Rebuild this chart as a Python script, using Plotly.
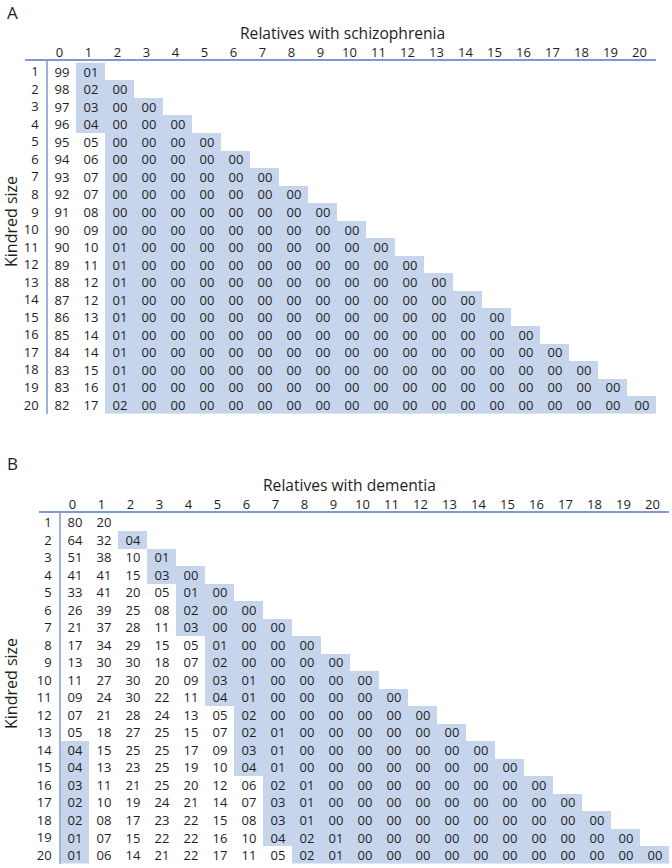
import plotly.graph_objects as go

kindred_size = list(range(1, 21))
relatives = list(range(0, 21))
tick_labels_x = [str(v) for v in relatives]
tick_labels_y = [str(v) for v in kindred_size]

# Panel A: % of kindreds by number of relatives with schizophrenia
schizophrenia = [
    [99, 1],
    [98, 2, 0],
    [97, 3, 0, 0],
    [96, 4, 0, 0, 0],
    [95, 5, 0, 0, 0, 0],
    [94, 6, 0, 0, 0, 0, 0],
    [93, 7, 0, 0, 0, 0, 0, 0],
    [92, 7, 0, 0, 0, 0, 0, 0, 0],
    [91, 8, 0, 0, 0, 0, 0, 0, 0, 0],
    [90, 9, 0, 0, 0, 0, 0, 0, 0, 0, 0],
    [90, 10, 1, 0, 0, 0, 0, 0, 0, 0, 0, 0],
    [89, 11, 1, 0, 0, 0, 0, 0, 0, 0, 0, 0, 0],
    [88, 12, 1, 0, 0, 0, 0, 0, 0, 0, 0, 0, 0, 0],
    [87, 12, 1, 0, 0, 0, 0, 0, 0, 0, 0, 0, 0, 0, 0],
    [86, 13, 1, 0, 0, 0, 0, 0, 0, 0, 0, 0, 0, 0, 0, 0],
    [85, 14, 1, 0, 0, 0, 0, 0, 0, 0, 0, 0, 0, 0, 0, 0, 0],
    [84, 14, 1, 0, 0, 0, 0, 0, 0, 0, 0, 0, 0, 0, 0, 0, 0, 0],
    [83, 15, 1, 0, 0, 0, 0, 0, 0, 0, 0, 0, 0, 0, 0, 0, 0, 0, 0],
    [83, 16, 1, 0, 0, 0, 0, 0, 0, 0, 0, 0, 0, 0, 0, 0, 0, 0, 0, 0],
    [82, 17, 2, 0, 0, 0, 0, 0, 0, 0, 0, 0, 0, 0, 0, 0, 0, 0, 0, 0, 0],
]

# Panel B: % of kindreds by number of relatives with dementia
dementia = [
    [80, 20],
    [64, 32, 4],
    [51, 38, 10, 1],
    [41, 41, 15, 3, 0],
    [33, 41, 20, 5, 1, 0],
    [26, 39, 25, 8, 2, 0, 0],
    [21, 37, 28, 11, 3, 0, 0, 0],
    [17, 34, 29, 15, 5, 1, 0, 0, 0],
    [13, 30, 30, 18, 7, 2, 0, 0, 0, 0],
    [11, 27, 30, 20, 9, 3, 1, 0, 0, 0, 0],
    [9, 24, 30, 22, 11, 4, 1, 0, 0, 0, 0, 0],
    [7, 21, 28, 24, 13, 5, 2, 0, 0, 0, 0, 0, 0],
    [5, 18, 27, 25, 15, 7, 2, 1, 0, 0, 0, 0, 0, 0],
    [4, 15, 25, 25, 17, 9, 3, 1, 0, 0, 0, 0, 0, 0, 0],
    [4, 13, 23, 25, 19, 10, 4, 1, 0, 0, 0, 0, 0, 0, 0, 0],
    [3, 11, 21, 25, 20, 12, 6, 2, 1, 0, 0, 0, 0, 0, 0, 0, 0],
    [2, 10, 19, 24, 21, 14, 7, 3, 1, 0, 0, 0, 0, 0, 0, 0, 0, 0],
    [2, 8, 17, 23, 22, 15, 8, 3, 1, 0, 0, 0, 0, 0, 0, 0, 0, 0, 0],
    [1, 7, 15, 22, 22, 16, 10, 4, 2, 1, 0, 0, 0, 0, 0, 0, 0, 0, 0, 0],
    [1, 6, 14, 21, 22, 17, 11, 5, 2, 1, 0, 0, 0, 0, 0, 0, 0, 0, 0, 0, 0],
]

SHADE = "#c6d5ec"
LINE = "#7e9ad0"
VLINE = "#9db2dc"
TXT = "#1e1e1e"
FONT = "Open Sans"
W, H = 672, 868


def grids(rows):
    z, t = [], []
    for row in rows:
        zr, tr = [], []
        for j in range(len(relatives)):
            if j < len(row):
                zr.append(1 if row[j] < 5 else 0)
                tr.append(f"{row[j]:02d}")
            else:
                zr.append(None)
                tr.append("")
        z.append(zr)
        t.append(tr)
    return z, t


fig = go.Figure()
panels = [
    dict(data=schizophrenia, title="Relatives with schizophrenia",
         letter="A", letter_y=12, title_x=342, title_y=33, ylab_y=222,
         x_px=(25, 656), xr=(-1.259, 20.5), yline=47, y_px=(61, 413.8), yr=(20.5, 0.4)),
    dict(data=dementia, title="Relatives with dementia",
         letter="B", letter_y=463, title_x=349, title_y=485, ylab_y=684,
         x_px=(39, 669), xr=(-1.224, 20.5), yline=60, y_px=(513, 863.75), yr=(20.5, 0.46)),
]

for i, p in enumerate(panels):
    sx = "" if i == 0 else "2"
    z, t = grids(p["data"])
    fig.add_trace(go.Heatmap(
        x=relatives, y=kindred_size, z=z, text=t, texttemplate="%{text}",
        textfont=dict(family=FONT, size=13, color=TXT),
        colorscale=[[0, "rgba(255,255,255,0)"], [1, SHADE]], zmin=0, zmax=1,
        showscale=False, hoverinfo="skip", xgap=0, ygap=0,
        xaxis="x" + sx, yaxis="y" + sx,
    ))
    fig.layout["xaxis" + sx] = dict(
        side="top", range=list(p["xr"]),
        domain=[p["x_px"][0] / W, p["x_px"][1] / W],
        anchor="y" + sx, tickvals=relatives, ticktext=tick_labels_x,
        showline=True, linecolor=LINE, linewidth=1.5, showgrid=False, zeroline=False,
        ticks="", ticklabelstandoff=-3, ticklabelshift=-2,
        tickfont=dict(family=FONT, size=13, color=TXT), fixedrange=True,
    )
    fig.layout["yaxis" + sx] = dict(
        range=list(p["yr"]),
        domain=[1 - p["y_px"][1] / H, 1 - p["y_px"][0] / H],
        anchor="free", position=p["yline"] / W,
        tickvals=kindred_size, ticktext=tick_labels_y,
        showline=True, linecolor=VLINE, linewidth=1.5, showgrid=False, zeroline=False,
        ticks="", ticklabelstandoff=5,
        tickfont=dict(family=FONT, size=13, color=TXT), fixedrange=True,
    )
    common = dict(xref="paper", yref="paper", showarrow=False,
                  xanchor="center", yanchor="middle")
    fig.add_annotation(text=p["letter"], x=12 / W, y=1 - p["letter_y"] / H,
                       font=dict(family=FONT, size=17, color=TXT), **common)
    fig.add_annotation(text=p["title"], x=p["title_x"] / W, y=1 - p["title_y"] / H,
                       font=dict(family=FONT, size=15.6, color=TXT), **common)
    fig.add_annotation(text="Kindred size", textangle=-90,
                       x=11 / W, y=1 - p["ylab_y"] / H,
                       font=dict(family=FONT, size=16, color=TXT), **common)

fig.update_layout(width=W, height=H, margin=dict(l=0, r=0, t=0, b=0),
                  paper_bgcolor="white", plot_bgcolor="white", showlegend=False)
fig.write_html("out.html", config={"displayModeBar": False},
               post_script="document.body.style.margin='0';document.body.style.overflow='hidden';")
